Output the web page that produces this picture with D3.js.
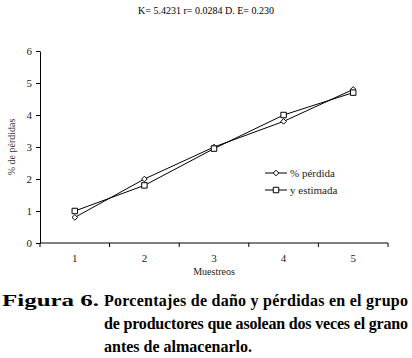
<!DOCTYPE html>
<html>
<head>
<meta charset="utf-8">
<script src="https://cdn.jsdelivr.net/npm/d3@7"></script>
<style>
  body { margin: 0; background: #fff; }
  svg { display: block; }
</style>
</head>
<body>
<svg id="chart"></svg>
<script>
const width = 412;
const height = 358;

const muestreos = ["1", "2", "3", "4", "5"];
const perdida = [0.8, 2.0, 3.0, 3.8, 4.8];
const estimada = [1.0, 1.8, 2.95, 4.0, 4.7];
const yTicks = [0, 1, 2, 3, 4, 5, 6];
const titulo = "K= 5.4231 r= 0.0284 D. E= 0.230";
const leyenda = ["% pérdida", "y estimada"];
const pie = ["Porcentajes de daño y pérdidas en el grupo",
             "de productores que asolean dos veces el grano",
             "antes de almacenarlo."];

const serif = "Liberation Serif";

const svg = d3.select("#chart")
    .attr("width", width)
    .attr("height", height);

const x = d3.scaleBand().domain(muestreos).range([40, 388]);
const y = d3.scaleLinear().domain([0, 6]).range([243, 51]);

// titulo
svg.append("text")
    .attr("x", 206).attr("y", 14)
    .attr("text-anchor", "middle")
    .attr("font-family", serif)
    .attr("font-size", 10)
    .text(titulo);

// eje y
const yAxis = svg.append("g")
    .attr("transform", "translate(40,0)")
    .call(d3.axisLeft(y).tickValues(yTicks).tickFormat(d3.format("d")).tickSize(4).tickSizeOuter(0));
yAxis.attr("font-family", serif).attr("font-size", 11);
yAxis.selectAll("text").attr("fill", "#222").attr("dx", "-1");

// eje x - ticks entre categorias como en excel
const xAxis = svg.append("g")
    .attr("transform", "translate(0,243)");
xAxis.append("line")
    .attr("x1", 40).attr("x2", 388)
    .attr("stroke", "#000");
xAxis.selectAll(".tk")
    .data(muestreos.concat(["end"]))
    .enter().append("line")
    .attr("x1", (d, i) => 40 + i * x.bandwidth())
    .attr("x2", (d, i) => 40 + i * x.bandwidth())
    .attr("y1", 0).attr("y2", 4)
    .attr("stroke", "#000");
xAxis.selectAll(".lbl")
    .data(muestreos)
    .enter().append("text")
    .attr("x", d => x(d) + x.bandwidth() / 2)
    .attr("y", 19)
    .attr("text-anchor", "middle")
    .attr("font-family", serif)
    .attr("font-size", 11)
    .attr("fill", "#222")
    .text(d => d);

svg.append("text")
    .attr("x", 214).attr("y", 275)
    .attr("text-anchor", "middle")
    .attr("font-family", serif)
    .attr("font-size", 10)
    .attr("fill", "#222")
    .text("Muestreos");

svg.append("text")
    .attr("transform", "translate(15,147) rotate(-90)")
    .attr("text-anchor", "middle")
    .attr("font-family", serif)
    .attr("font-size", 10)
    .attr("fill", "#333")
    .text("% de pérdidas");

const cx = d => x(d) + x.bandwidth() / 2;
const line = d3.line()
    .x((d, i) => cx(muestreos[i]))
    .y(d => y(d));

svg.append("path")
    .attr("d", line(perdida))
    .attr("fill", "none").attr("stroke", "#000").attr("stroke-width", 1);
svg.append("path")
    .attr("d", line(estimada))
    .attr("fill", "none").attr("stroke", "#000").attr("stroke-width", 1);

const diamond = d3.symbol().type(d3.symbolDiamond2).size(20);
const square = d3.symbol().type(d3.symbolSquare).size(30);

svg.selectAll(".dia")
    .data(perdida)
    .enter().append("path")
    .attr("d", diamond)
    .attr("transform", (d, i) => `translate(${cx(muestreos[i])},${y(d)})`)
    .attr("fill", "#fff").attr("stroke", "#000");
svg.selectAll(".sq")
    .data(estimada)
    .enter().append("path")
    .attr("d", square)
    .attr("transform", (d, i) => `translate(${cx(muestreos[i])},${y(d)})`)
    .attr("fill", "#fff").attr("stroke", "#000");

// leyenda
const leg = svg.append("g").attr("transform", "translate(265,173)");
leyenda.forEach((t, i) => {
    const g = leg.append("g").attr("transform", `translate(0,${i * 17})`);
    g.append("line").attr("x1", 0).attr("x2", 22).attr("stroke", "#000");
    g.append("path")
        .attr("d", i === 0 ? diamond : square)
        .attr("transform", "translate(11,0)")
        .attr("fill", "#fff").attr("stroke", "#000");
    g.append("text")
        .attr("x", 25).attr("y", 4)
        .attr("font-family", serif)
        .attr("font-size", 11)
        .attr("fill", "#222")
        .text(t);
});

// pie de figura
svg.append("text")
    .attr("x", 2).attr("y", 306)
    .attr("font-family", serif)
    .attr("font-weight", "bold")
    .attr("font-size", 17)
    .attr("textLength", 97).attr("lengthAdjust", "spacingAndGlyphs")
    .text("Figura 6.");
pie.forEach((t, i) => {
    const tx = svg.append("text")
        .attr("x", 104).attr("y", 306 + i * 23)
        .attr("font-family", serif)
        .attr("font-weight", "bold")
        .attr("font-size", 16)
        .text(t);
    if (i < 2) tx.attr("textLength", 304).attr("lengthAdjust", "spacing");
});
</script>
</body>
</html>
